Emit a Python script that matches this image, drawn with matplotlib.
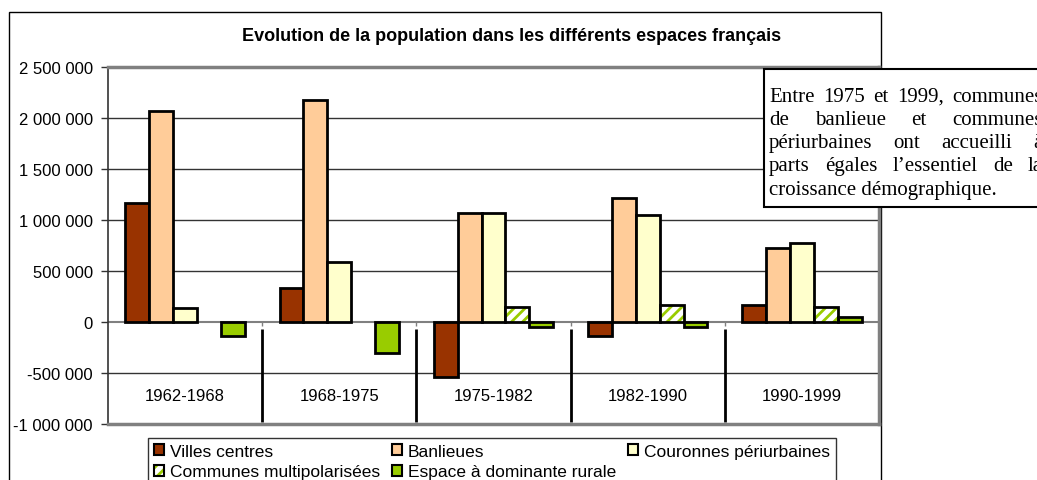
import numpy as np
import matplotlib
matplotlib.use("Agg")
import matplotlib.pyplot as plt
from matplotlib.patches import Rectangle, Patch
from matplotlib.legend_handler import HandlerTuple

plt.rcParams['font.family'] = ['Liberation Sans', 'DejaVu Sans']
plt.rcParams['hatch.linewidth'] = 2.0

periodes = ['1962-1968', '1968-1975', '1975-1982', '1982-1990', '1990-1999']
villes_centres = [1165000, 330000, -540000, -135000, 165000]
banlieues = [2065000, 2180000, 1070000, 1215000, 725000]
couronnes = [140000, 585000, 1070000, 1050000, 770000]
multipolarisees = [None, None, 145000, 165000, 145000]
rural = [-135000, -300000, -45000, -45000, 50000]

series = ['Villes centres', 'Banlieues', 'Couronnes périurbaines',
          'Communes multipolarisées', 'Espace à dominante rurale']
couleurs = ['#993300', '#FFCC99', '#FFFFCC', 'white', '#99CC00']
vert = '#99CC00'

titre = 'Evolution de la population dans les différents espaces français'
note = ['Entre 1975 et 1999, communes',
        'de banlieue et communes',
        'périurbaines ont accueilli à',
        'parts égales l\u2019essentiel de la',
        'croissance démographique.']

W, H = 1037, 481
fig = plt.figure(figsize=(W / 100, H / 100), dpi=100)

def fx(px):
    return px / W

def fy(py):
    return 1 - py / H

# cadre du graphique
fig.add_artist(Rectangle((fx(9), fy(500)), fx(881) - fx(9), fy(13) - fy(500),
                         transform=fig.transFigure, fill=False, ec='black', lw=1, zorder=0))

ax = fig.add_axes([fx(108), fy(425), fx(879) - fx(108), fy(68) - fy(425)])
x = np.arange(len(periodes))
w = 0.155
donnees = [villes_centres, banlieues, couronnes, multipolarisees, rural]
for k, vals in enumerate(donnees):
    xs = [x[i] + (k - 2) * w for i, v in enumerate(vals) if v is not None]
    vs = [v for v in vals if v is not None]
    if k == 3:
        ax.bar(xs, vs, w, color='white', edgecolor=vert, hatch='///', lw=0, zorder=3)
        ax.bar(xs, vs, w, fill=False, edgecolor='black', lw=2, zorder=4)
    else:
        ax.bar(xs, vs, w, color=couleurs[k], edgecolor='black', lw=2, zorder=3)

ax.set_xlim(-0.5, len(periodes) - 0.5)
ax.set_ylim(-1000000, 2500000)
ax.set_yticks(np.arange(-1000000, 2500001, 500000))
ax.set_yticklabels(['{:,}'.format(int(t)).replace(',', ' ') for t in ax.get_yticks()],
                   fontsize=12)
ax.tick_params(axis='y', length=5, width=1, color='#333333', pad=6)
ax.set_xticks([])
for t in ax.get_yticks():
    if t not in (0, 2500000, -1000000):
        ax.axhline(t, color='#333333', lw=1, zorder=1)
ax.axhline(0, color='#808080', lw=1.5, zorder=2)

bornes = x[:-1] + 0.5
ax.vlines(bornes, -40000, 0, color='#808080', lw=1, zorder=2)
ax.vlines(bornes, -70000, -985000, color='black', lw=2, zorder=2)

for i, p in enumerate(periodes):
    ax.text(x[i], 0.081, p, transform=ax.get_xaxis_transform(),
            ha='center', va='center', fontsize=12)

for s in ['top', 'right', 'bottom']:
    ax.spines[s].set_color('#808080')
    ax.spines[s].set_linewidth(2.5)
ax.spines['left'].set_color('#333333')
ax.spines['left'].set_linewidth(1.2)

fig.text(fx(512), fy(37), titre, ha='center', va='center',
         fontsize=13, fontweight='bold')

# légende
handles = []
for k in range(5):
    if k == 3:
        handles.append((Patch(facecolor='white', edgecolor=vert, hatch='///', lw=0),
                        Patch(fill=False, edgecolor='black', lw=1.5)))
    else:
        handles.append(Patch(facecolor=couleurs[k], edgecolor='black', lw=1.5))
ordre = [0, 3, 1, 4, 2]
leg = fig.legend([handles[i] for i in ordre], [series[i] for i in ordre],
                 handler_map={tuple: HandlerTuple(ndivide=1, pad=0)},
                 ncol=3, loc='upper left', bbox_to_anchor=(fx(148), fy(439)),
                 fontsize=12.5, frameon=True, fancybox=False, borderpad=0.35,
                 handlelength=0.6, handleheight=0.6, handletextpad=0.3,
                 columnspacing=0.7, labelspacing=0.3, borderaxespad=0)
leg.get_frame().set_edgecolor('black')
leg.get_frame().set_linewidth(1)

# encadré de texte
fig.add_artist(Rectangle((fx(764), fy(208)), fx(1060) - fx(764), fy(70) - fy(208),
                         transform=fig.transFigure, fc='white', ec='black', lw=1.5, zorder=5))
renderer = fig.canvas.get_renderer()
x0, x1 = 769, 1043
for j, ligne in enumerate(note):
    yb = fy(101.5 + j * 23.3)
    mots = ligne.split(' ')
    if j == len(note) - 1:
        fig.text(fx(x0), yb, ligne, family='Liberation Serif', fontsize=15,
                 va='baseline', zorder=6)
        continue
    txts = [fig.text(0, yb, m, family='Liberation Serif', fontsize=15,
                     va='baseline', zorder=6) for m in mots]
    larg = [t.get_window_extent(renderer).width for t in txts]
    esp = (x1 - x0 - sum(larg)) / (len(mots) - 1)
    pos = x0
    for t, l in zip(txts, larg):
        t.set_x(fx(pos))
        pos += l + esp

fig.savefig('out.png', dpi=100)
